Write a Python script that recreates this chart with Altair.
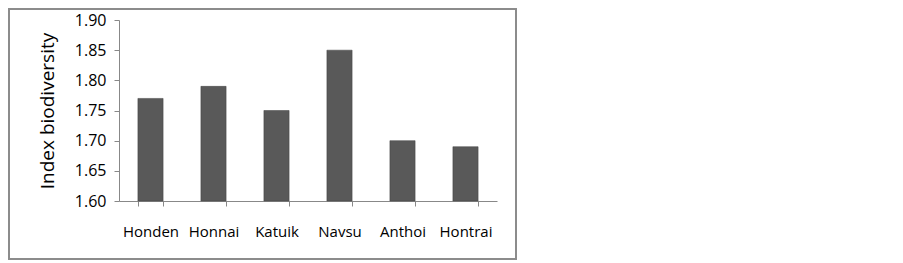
import altair as alt
import pandas as pd

sites = ["Honden", "Honnai", "Katuik", "Navsu", "Anthoi", "Hontrai"]
index_values = [1.77, 1.79, 1.75, 1.85, 1.70, 1.69]
y_ticks = [1.60, 1.65, 1.70, 1.75, 1.80, 1.85, 1.90]
baseline = 1.60

df = pd.DataFrame({"site": sites, "value": index_values})

W, H = 378, 181
FONT = "Open Sans"

bars = alt.Chart(df).mark_bar(color="#595959", stroke="#404040", strokeWidth=0.5).encode(
    x=alt.X("site:N", sort=sites, title=None,
            scale=alt.Scale(paddingInner=0.6, paddingOuter=0.3),
            axis=alt.Axis(labelAngle=0, labelFontSize=15, labelFont=FONT, labelColor="#000000",
                          labelPadding=18, tickBand="extent", tickSize=5, tickColor="#888888",
                          domainColor="#888888", labelOverlap=False)),
    y=alt.Y("value:Q", title="Index biodiversity",
            scale=alt.Scale(domain=[1.6, 1.9], zero=False, nice=False),
            axis=alt.Axis(values=y_ticks, format=".2f", grid=False, labelFontSize=16,
                          labelFont=FONT, labelColor="#000000", labelPadding=8, tickSize=5,
                          tickColor="#888888", domainColor="#888888",
                          titleFontSize=19, titleFont=FONT, titleFontWeight="normal",
                          titleColor="#000000", titleX=-72, titleY=H / 2,
                          titleAngle=-90, titleAlign="center", titleBaseline="middle")),
    y2=alt.datum(baseline),
)

frame = alt.Chart(df).mark_rect(fill=None, stroke="#8c8c8c", strokeWidth=1.5).encode(
    x=alt.value(-110), x2=alt.value(W + 19), y=alt.value(-11), y2=alt.value(H + 58)
)

chart = alt.layer(frame, bars).properties(
    width=W, height=H,
    autosize=alt.AutoSizeParams(type="none"),
    padding={"left": 111, "top": 12, "right": 21, "bottom": 60},
).configure_view(stroke=None)

chart.save("out.html", embed_options={"renderer": "svg", "actions": False})
